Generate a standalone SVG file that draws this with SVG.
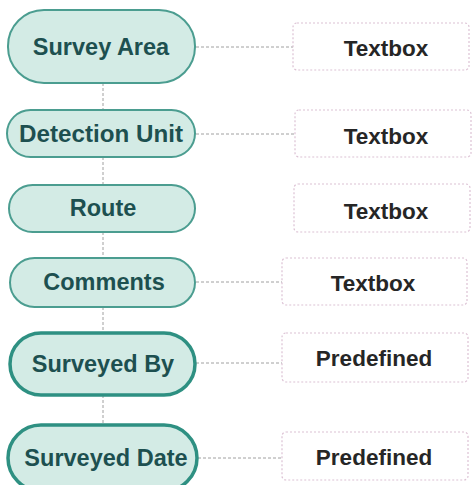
<svg xmlns="http://www.w3.org/2000/svg" width="474" height="485" viewBox="0 0 474 485">
<style>
.pill{fill:#d3ebe5;stroke:#4b9d90;stroke-width:2}
.pill.thick{stroke:#2e9082;stroke-width:3.5}
.box{fill:#ffffff;stroke:#dcc2d4;stroke-width:1.2;stroke-dasharray:2 2}
.pt{font-family:"Liberation Sans",Arial,sans-serif;font-weight:bold;font-size:23.5px;fill:#1d5050;text-anchor:middle}
.bt{font-family:"Liberation Sans",Arial,sans-serif;font-weight:bold;font-size:22.5px;fill:#262626;text-anchor:middle}
.c{stroke:#a0a0a0;stroke-width:1;stroke-dasharray:3 2;fill:none}
</style>
<rect width="474" height="485" fill="#ffffff"/>
<g id="connectors">
<path class="c" d="M103 83V110M103 157V185M103 232V258M103 307V333M103 395V425"/>
<path class="c" d="M196 47H293M196 134H295M196 282H282M196 363H282M198 458H282"/>
</g>
<g id="n1"><rect class="pill" x="8" y="10" width="187" height="73" rx="36"/><text class="pt" x="101" y="55">Survey Area</text></g>
<g id="n2"><rect class="pill" x="7" y="110" width="188" height="47" rx="23.5"/><text class="pt" x="101" y="142" textLength="164" lengthAdjust="spacingAndGlyphs">Detection Unit</text></g>
<g id="n3"><rect class="pill" x="9" y="185" width="186" height="47" rx="23.5"/><text class="pt" x="103" y="216">Route</text></g>
<g id="n4"><rect class="pill" x="10" y="258" width="185" height="49" rx="24.5"/><text class="pt" x="104" y="290">Comments</text></g>
<g id="n5"><rect class="pill thick" x="10" y="333" width="185" height="62" rx="31"/><text class="pt" x="103" y="372">Surveyed By</text></g>
<g id="n6"><rect class="pill thick" x="8" y="425" width="189" height="66" rx="33"/><text class="pt" x="106" y="466">Surveyed Date</text></g>
<g id="b1"><rect class="box" x="293" y="23" width="176" height="47" rx="4"/><text class="bt" x="386" y="56">Textbox</text></g>
<g id="b2"><rect class="box" x="295" y="110" width="176" height="47" rx="4"/><text class="bt" x="386" y="144">Textbox</text></g>
<g id="b3"><rect class="box" x="294" y="184" width="176" height="48" rx="4"/><text class="bt" x="386" y="219">Textbox</text></g>
<g id="b4"><rect class="box" x="282" y="258" width="185" height="47" rx="4"/><text class="bt" x="373" y="291">Textbox</text></g>
<g id="b5"><rect class="box" x="282" y="333" width="186" height="49" rx="4"/><text class="bt" x="374" y="366">Predefined</text></g>
<g id="b6"><rect class="box" x="282" y="432" width="186" height="48" rx="4"/><text class="bt" x="374" y="465">Predefined</text></g>
</svg>
